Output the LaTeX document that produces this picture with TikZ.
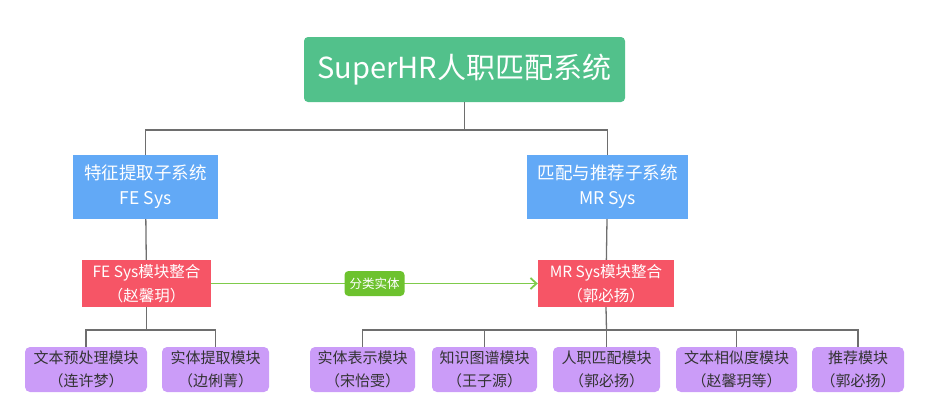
\documentclass[tikz,border=0pt]{standalone}
\usepackage{fontspec}
\setmainfont{Noto Sans CJK SC}
\usetikzlibrary{arrows.meta,positioning,calc}

\definecolor{titlegreen}{HTML}{52C18B}
\definecolor{sysblue}{HTML}{62A9F6}
\definecolor{mergered}{HTML}{F65566}
\definecolor{modpurple}{HTML}{CB9CF8}
\definecolor{taggreen}{HTML}{6DC22E}
\definecolor{flowgreen}{HTML}{7FCB4B}
\definecolor{linegray}{HTML}{6E6E6E}

\begin{document}
\begin{tikzpicture}[
    x=1pt, y=-1pt,
    titlebox/.style={rectangle, rounded corners=4pt, fill=titlegreen, text=white, align=center,
        minimum width=321pt, minimum height=65pt, font=\fontsize{29}{32}\selectfont},
    sysbox/.style={rectangle, fill=sysblue, text=white, align=center, minimum height=64pt,
        font=\fontsize{17.5}{25}\selectfont},
    mergebox/.style={rectangle, fill=mergered, text=white, align=center, minimum height=47pt,
        font=\fontsize{15.5}{24}\selectfont},
    modbox/.style={rectangle, rounded corners=5pt, fill=modpurple, text=black!80, align=center,
        minimum height=45pt, font=\fontsize{15}{23}\selectfont},
    tag/.style={rectangle, rounded corners=4pt, fill=taggreen, text=white, inner sep=3pt,
        minimum width=60pt, minimum height=25pt, font=\fontsize{12.5}{14}\selectfont},
    conn/.style={draw=linegray, line width=1.8pt},
    subconn/.style={draw=linegray, line width=1.3pt}
]
    \useasboundingbox (0,0) rectangle (936,416);

    % Top: whole system
    \node[titlebox] (title) at (464.5,69.5) {SuperHR人职匹配系统};

    % Two sub-systems
    \node[sysbox, minimum width=145pt] (fesys) at (145.5,187) {特征提取子系统\\FE Sys};
    \node[sysbox, minimum width=161pt] (mrsys) at (607.5,187) {匹配与推荐子系统\\MR Sys};

    % Module integration
    \node[mergebox, minimum width=129pt] (femerge) at (146.5,283.5) {FE Sys模块整合\\（赵馨玥）};
    \node[mergebox, minimum width=136pt] (mrmerge) at (606,283.5) {MR Sys模块整合\\（郭必扬）};

    % Modules of FE Sys
    \node[modbox, minimum width=122pt] (prep) at (86,369.5) {文本预处理模块\\（连许梦）};
    \node[modbox, minimum width=107pt] (extract) at (215.5,369.5) {实体提取模块\\（边俐菁）};

    % Modules of MR Sys
    \node[modbox, minimum width=105pt] (embed) at (362.5,369.5) {实体表示模块\\（宋怡雯）};
    \node[modbox, minimum width=105pt] (kg) at (484.5,369.5) {知识图谱模块\\（王子源）};
    \node[modbox, minimum width=107pt] (match) at (606.5,369.5) {人职匹配模块\\（郭必扬）};
    \node[modbox, minimum width=121pt] (simi) at (736.5,369.5) {文本相似度模块\\（赵馨玥等）};
    \node[modbox, minimum width=92pt] (recom) at (858,369.5) {推荐模块\\（郭必扬）};

    % Tree connectors
    \coordinate (topsplit) at (464.5,130);
    \coordinate (fesplit) at (146.5,330);
    \coordinate (mrsplit) at (606.5,330);
    \draw[conn] (title.south) -- (topsplit) -| (fesys.north);
    \draw[conn] (topsplit) -| (mrsys.north);
    \draw[subconn] (fesys) -- (femerge);
    \draw[subconn] (mrsys) -- (mrmerge);
    \draw[subconn] (femerge.south) -- (fesplit);
    \foreach \m in {prep,extract}
        \draw[subconn] (fesplit) -| (\m.north);
    \draw[subconn] (mrmerge.south) -- (mrsplit);
    \foreach \m in {embed,kg,match,simi,recom}
        \draw[subconn] (mrsplit) -| (\m.north);

    % Entity flow between the two sub-systems
    \draw[flowgreen, line width=1.8pt, -{Straight Barb[length=6pt,width=11pt]}] (femerge.east) -- (mrmerge.west)
        node[tag, pos=0.5] (flowtag) {分类实体};

\end{tikzpicture}
\end{document}
